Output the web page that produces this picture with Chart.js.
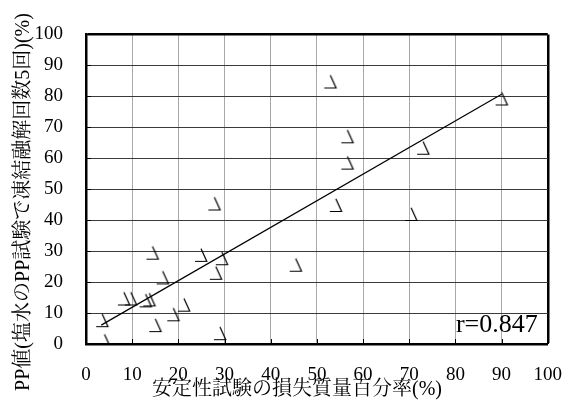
<!DOCTYPE html>
<html>
<head>
<meta charset="utf-8">
<script src="https://cdn.jsdelivr.net/npm/chart.js@4.4.1/dist/chart.umd.min.js"></script>
<style>
  html, body { margin: 0; padding: 0; background: #fff; }
  #wrap { width: 582px; height: 403px; }
</style>
</head>
<body>
<div id="wrap"><canvas id="chart" width="582" height="403"></canvas></div>
<script>
// 安定性試験の損失質量百分率 (%) and PP値 (%) for each sample
const lossPct = [52.9, 90.0, 56.6, 73.0, 56.6, 27.8, 54.1, 70.4, 14.4, 24.9, 29.4, 45.4,
                 28.1, 16.6, 8.2, 9.7, 12.9, 13.7, 21.2, 18.9, 3.5, 15.0, 29.0, 4.0];
const ppValue = [84.8, 79.3, 67.1, 63.4, 58.6, 45.4, 44.9, 42.0, 29.5, 28.8, 27.7, 25.6,
                 23.0, 21.5, 14.7, 14.7, 14.1, 14.4, 12.7, 9.6, 7.7, 6.1, 3.5, 1.1];
// regression line end points
const trendX = [3.3, 90.0];
const trendY = [6.1, 80.7];
const corrText = 'r=0.847';
const xTitle = '安定性試験の損失質量百分率(%)';
const yTitle = 'PP値(塩水のPP試験で凍結融解回数5回)(%)';

const serif = '"Liberation Serif", "Noto Serif CJK JP", "Noto Sans CJK JP", serif';

// marker: open triangle without its left side
const marker = document.createElement('canvas');
marker.width = 16;
marker.height = 16;
const mctx = marker.getContext('2d');
mctx.strokeStyle = '#000';
mctx.lineWidth = 1.2;
mctx.beginPath();
mctx.moveTo(8, 1.8);
mctx.lineTo(13.8, 14.5);
mctx.lineTo(2, 14.5);
mctx.stroke();

// titles, r value and inward tick marks
const decor = {
  id: 'decor',
  afterDraw(chart) {
    const { ctx, chartArea: a, scales } = chart;
    ctx.save();
    ctx.strokeStyle = '#000';
    ctx.lineWidth = 1;
    scales.x.ticks.forEach(t => {
      const px = Math.round(scales.x.getPixelForValue(t.value)) + 0.5;
      ctx.beginPath(); ctx.moveTo(px, a.bottom); ctx.lineTo(px, a.bottom - 5); ctx.stroke();
    });
    scales.y.ticks.forEach(t => {
      const py = Math.round(scales.y.getPixelForValue(t.value)) + 0.5;
      ctx.beginPath(); ctx.moveTo(a.left, py); ctx.lineTo(a.left + 5, py); ctx.stroke();
    });
    ctx.fillStyle = '#000';
    ctx.font = '26px ' + serif;
    ctx.textAlign = 'right';
    ctx.textBaseline = 'alphabetic';
    ctx.fillText(corrText, a.right - 10, a.bottom - 12);
    ctx.font = '20px ' + serif;
    ctx.textAlign = 'center';
    ctx.textBaseline = 'middle';
    ctx.fillText(xTitle, 297, 390);
    ctx.translate(24, 202);
    ctx.rotate(-Math.PI / 2);
    ctx.fillText(yTitle, 0, 0);
    ctx.restore();
  }
};

const edge = (c) => (c.tick && c.tick.value === 100 ? 2.5 : 1);

new Chart(document.getElementById('chart'), {
  type: 'scatter',
  plugins: [decor],
  data: {
    datasets: [
      {
        data: lossPct.map((x, i) => ({ x: x, y: ppValue[i] })),
        pointStyle: marker,
        pointRadius: 8,
        showLine: false,
      },
      {
        type: 'line',
        data: trendX.map((x, i) => ({ x: x, y: trendY[i] })),
        borderColor: '#000',
        borderWidth: 1.2,
        pointRadius: 0,
        fill: false,
      },
    ],
  },
  options: {
    responsive: false,
    animation: false,
    layout: { padding: { left: 0, right: 23, top: 32, bottom: 0 } },
    plugins: { legend: { display: false }, tooltip: { enabled: false } },
    scales: {
      x: {
        type: 'linear',
        min: 0,
        max: 100,
        afterFit: (s) => { s.height = 59; },
        ticks: { stepSize: 10, padding: 20, color: '#000', font: { family: serif, size: 19 } },
        grid: { color: (c) => (c.tick && c.tick.value === 100 ? '#000' : '#a8a8a8'), lineWidth: edge, drawTicks: false },
        border: { display: true, color: '#000', width: 2.5 },
      },
      y: {
        min: 0,
        max: 100,
        afterFit: (s) => { s.width = 86; },
        ticks: { stepSize: 10, padding: 23, color: '#000', font: { family: serif, size: 19 } },
        grid: { color: (c) => (c.tick && c.tick.value === 100 ? '#000' : '#3a3a3a'), lineWidth: edge, drawTicks: false },
        border: { display: true, color: '#000', width: 2.5 },
      },
    },
  },
});
</script>
</body>
</html>
